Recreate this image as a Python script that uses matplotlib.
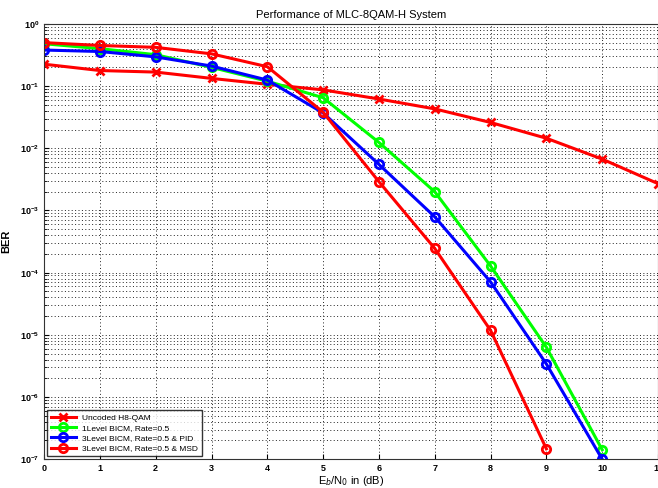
import matplotlib.pyplot as plt
import numpy as np

plt.rcParams['font.family'] = ['Liberation Sans', 'DejaVu Sans']

# Eb/N0 points (dB)
snr_uncoded = [0, 1, 2, 3, 4, 5, 6, 7, 8, 9, 10, 11]
snr_1level = [0, 1, 2, 3, 4, 5, 6, 7, 8, 9, 10]
snr_pid = [0, 1, 2, 3, 4, 5, 6, 7, 8, 9, 10]
snr_msd = [0, 1, 2, 3, 4, 5, 6, 7, 8, 9]

# BER values
ber_uncoded = [0.225, 0.178, 0.168, 0.133, 0.107, 0.087, 0.062, 0.043, 0.026, 0.0145, 0.0067, 0.0027]
ber_1level = [0.48, 0.40, 0.32, 0.20, 0.12, 0.065, 0.0124, 0.002, 1.28e-4, 6.3e-6, 1.42e-7]
ber_pid = [0.38, 0.36, 0.295, 0.21, 0.125, 0.037, 0.0055, 7.9e-4, 7.1e-5, 3.4e-6, 1.0e-7]
ber_msd = [0.50, 0.45, 0.42, 0.33, 0.205, 0.038, 0.0029, 2.45e-4, 1.18e-5, 1.47e-7]

labels = ['Uncoded H8-QAM', '1Level BICM, Rate=0.5',
          '3Level BICM, Rate=0.5 & PID', '3Level BICM, Rate=0.5 & MSD']

fig = plt.figure(figsize=(6.58, 4.88), dpi=100)
ax = fig.add_axes([0.067, 0.059, 0.933, 0.892])

ax.semilogy(snr_uncoded, ber_uncoded, '-x', color='#ff0000', lw=2.2, ms=6, mew=2, label=labels[0])
ax.semilogy(snr_1level, ber_1level, '-o', color='#00ff00', lw=2.2, ms=6, mew=2, mfc='none', label=labels[1])
ax.semilogy(snr_pid, ber_pid, '-o', color='#0000ff', lw=2.2, ms=6, mew=2, mfc='none', label=labels[2])
ax.semilogy(snr_msd, ber_msd, '-o', color='#ff0000', lw=2.2, ms=6, mew=2, mfc='none', label=labels[3])

ax.set_xlim(0, 11)
ax.set_ylim(1e-7, 1)
ax.set_xticks(range(0, 12))
ax.grid(True, which='major', color='#222222', linestyle=(0, (1, 2.5)), linewidth=0.7)
ax.grid(True, which='minor', axis='y', color='#222222', linestyle=(0, (1, 2.5)), linewidth=0.7)
ax.tick_params(which='both', direction='in', labelsize=6.5)
for lab in ax.get_xticklabels() + ax.get_yticklabels():
    lab.set_fontweight('bold')
for s in ax.spines.values():
    s.set_color('#333333')

ax.set_title('Performance of MLC-8QAM-H System', fontsize=8, pad=4)
ax.set_xlabel(r'E$_b$/N$_0$ in (dB)', fontsize=8, labelpad=1)
ax.set_ylabel('BER', fontsize=8, fontweight='bold', labelpad=6)

leg = ax.legend(loc='lower left', fontsize=6, frameon=True, fancybox=False,
                borderaxespad=0.4, handlelength=3, labelspacing=0.3)
leg.get_frame().set_edgecolor('black')
leg.get_frame().set_linewidth(1)

fig.savefig('out.png', dpi=100)
